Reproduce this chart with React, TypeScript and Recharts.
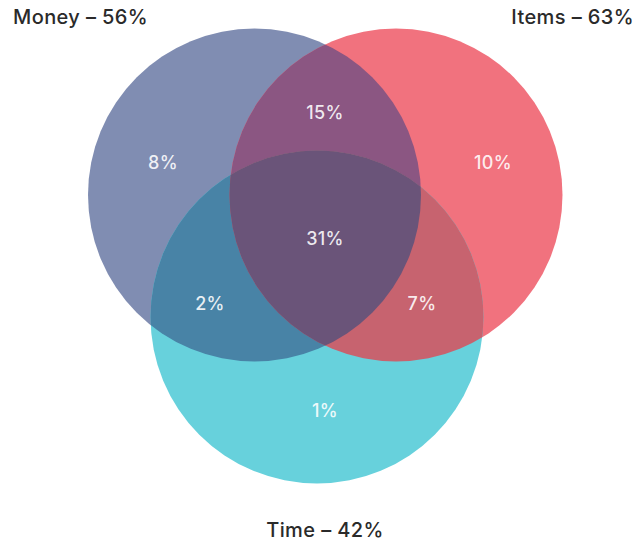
import React from 'react';
import { ScatterChart, Scatter, XAxis, YAxis } from 'recharts';

// Chart frame (layout units map 1:1 onto the drawing area)
const CHART_W = 640;
const CHART_H = 542;
const X_DOMAIN: [number, number] = [0, 640];
const Y_DOMAIN: [number, number] = [0, 542];
const PX_PER_UNIT = CHART_W / (X_DOMAIN[1] - X_DOMAIN[0]);

// Sets
const setNames = ['Money', 'Items', 'Time'];
const setShares = [56, 63, 42];
const setColors = ['#808db2', '#f1727e', '#67d1dc'];
const setCenterX = [254.5, 396, 317];
const setCenterY = [195, 195, 317];
const setRadius = [166.5, 166.5, 166.5];

// Overlap fills: base set, clipped by the listed sets
const overlapBase = ['Money', 'Money', 'Items', 'Money'];
const overlapClips = [['Items'], ['Time'], ['Time'], ['Items', 'Time']];
const overlapColors = ['#8b5682', '#4883a6', '#c7636f', '#6a5479'];

// Region shares
const regionNames = ['Money only', 'Items only', 'Time only', 'Money & Items', 'Money & Time', 'Items & Time', 'All three'];
const regionValues = [8, 10, 1, 15, 2, 7, 31];
const regionX = [163, 493, 325, 325, 210, 422, 325];
const regionY = [162, 162, 410, 112, 303, 303, 238];

// Set titles
const titleX = [13, 634, 325];
const titleY = [17, 17, 530];
const titleAnchor = ['start', 'end', 'middle'];

const FONT = 'Inter, "Open Sans", "DejaVu Sans", sans-serif';

const setData = setNames.map((name, i) => ({
  key: name,
  x: setCenterX[i],
  y: setCenterY[i],
  r: setRadius[i],
  fill: setColors[i],
}));

const overlapData = overlapBase.map((base, i) => {
  const idx = setNames.indexOf(base);
  return {
    key: `${base}-${overlapClips[i].join('-')}`,
    x: setCenterX[idx],
    y: setCenterY[idx],
    r: setRadius[idx],
    clips: overlapClips[i],
    fill: overlapColors[i],
  };
});

const regionData = regionNames.map((name, i) => ({
  key: name,
  x: regionX[i],
  y: regionY[i],
  text: `${regionValues[i]}%`,
}));

const titleData = setNames.map((name, i) => ({
  key: name,
  x: titleX[i],
  y: titleY[i],
  anchor: titleAnchor[i],
  text: `${name} \u2013 ${setShares[i]}%`,
}));

const clipId = (name: string) => `venn-clip-${name}`;

const SetCircle = (props: any) => {
  const { cx, cy, payload } = props;
  const r = payload.r * PX_PER_UNIT;
  return (
    <g>
      <defs>
        <clipPath id={clipId(payload.key)}>
          <circle cx={cx} cy={cy} r={r} />
        </clipPath>
      </defs>
      <circle cx={cx} cy={cy} r={r} fill={payload.fill} />
    </g>
  );
};

const OverlapCircle = (props: any) => {
  const { cx, cy, payload } = props;
  const r = payload.r * PX_PER_UNIT;
  let node: React.ReactElement = <circle cx={cx} cy={cy} r={r} fill={payload.fill} />;
  for (const name of payload.clips as string[]) {
    node = <g clipPath={`url(#${clipId(name)})`}>{node}</g>;
  }
  return node;
};

const RegionLabel = (props: any) => {
  const { cx, cy, payload } = props;
  return (
    <text
      x={cx}
      y={cy}
      textAnchor="middle"
      dominantBaseline="central"
      fill="#ffffff"
      fillOpacity={0.88}
      fontFamily={FONT}
      fontSize={18}
      fontWeight={500}
      letterSpacing={0.3}
    >
      {payload.text}
    </text>
  );
};

const TitleLabel = (props: any) => {
  const { cx, cy, payload } = props;
  return (
    <text
      x={cx}
      y={cy}
      textAnchor={payload.anchor}
      dominantBaseline="central"
      fill="#2a2a2a"
      fontFamily={FONT}
      fontSize={20}
      fontWeight={500}
      letterSpacing={0.4}
    >
      {payload.text}
    </text>
  );
};

export default function App() {
  return (
    <div style={{ position: 'absolute', left: 0, top: 0, width: CHART_W, height: CHART_H, background: '#ffffff' }}>
      <ScatterChart width={CHART_W} height={CHART_H} margin={{ top: 0, right: 0, bottom: 0, left: 0 }}>
        <XAxis type="number" dataKey="x" domain={X_DOMAIN} hide />
        <YAxis type="number" dataKey="y" domain={Y_DOMAIN} reversed hide />
        <Scatter data={setData} shape={SetCircle} isAnimationActive={false} />
        <Scatter data={overlapData} shape={OverlapCircle} isAnimationActive={false} />
        <Scatter data={regionData} shape={RegionLabel} isAnimationActive={false} />
        <Scatter data={titleData} shape={TitleLabel} isAnimationActive={false} />
      </ScatterChart>
    </div>
  );
}
